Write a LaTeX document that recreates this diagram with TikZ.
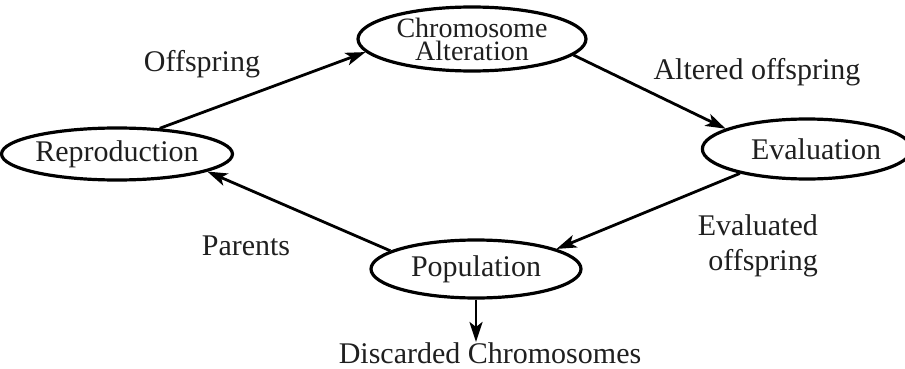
\documentclass[tikz,border=0pt]{standalone}
\usepackage{fontspec}
\setmainfont{Liberation Serif}
\usetikzlibrary{shapes.geometric,arrows.meta}
\begin{document}
\begin{tikzpicture}[x=1pt,y=-1pt,
  stage/.style={ellipse,draw,line width=3.2pt,inner sep=0pt,
    font=\fontsize{30}{21}\selectfont,align=center,text=black!88},
  tag/.style={inner sep=0pt,anchor=base,font=\fontsize{30}{35}\selectfont,text=black!88},
  flow/.style={line width=2.8pt,-{Stealth[length=20pt,width=13pt,inset=5pt]}}]
\useasboundingbox (0,0) rectangle (905,369);

% the four stages of the cycle
\node[stage,minimum width=228pt,minimum height=64pt,
  font=\fontsize{28}{23}\selectfont] (alt) at (472,39) {Chromosome\\Alteration};
\node[stage,minimum width=210pt,minimum height=52pt] (rep) at (117,154) {Reproduction};
\node[stage,minimum width=200pt,minimum height=60pt] (eva) at (807,149) {\hspace*{18pt}Evaluation};
\node[stage,minimum width=210pt,minimum height=58pt] (pop) at (476,269) {Population};

% edge labels
\node[tag] (l1) at (202,72) {Offspring};
\node[tag] (l2) at (757,80) {Altered offspring};
\node[tag] (l3) at (246,255) {Parents};
\node[tag,anchor=base east] (l4) at (818,235) {Evaluated};
\node[tag,anchor=base east] (l5) at (818,270) {offspring};
\node[tag] (disc) at (490,363) {Discarded Chromosomes};

% cycle connectors
\draw[flow] (rep.31) -- (alt.187);
\draw[flow] (alt.-9) -- (eva.166);
\draw[flow] (eva.200) -- (pop.14);
\draw[flow] (pop.168) -- (rep.-11);
\draw[flow] (pop.south) -- (pop.south |- disc.north);
\end{tikzpicture}
\end{document}
